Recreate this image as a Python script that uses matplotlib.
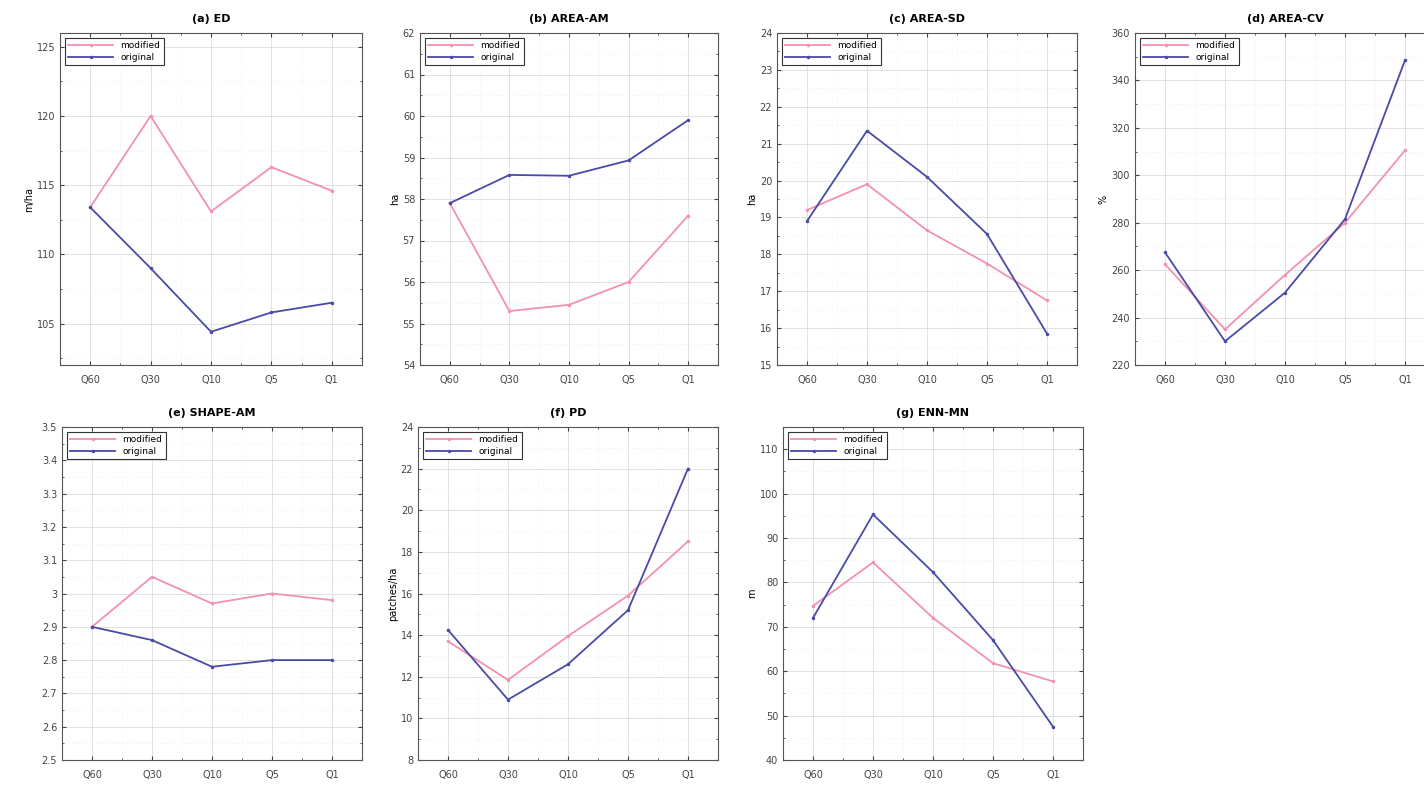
import numpy as np
import matplotlib
matplotlib.use('Agg')
import matplotlib.pyplot as plt
from matplotlib.ticker import MultipleLocator, AutoMinorLocator

quantiles = ['Q60', 'Q30', 'Q10', 'Q5', 'Q1']

# (a) ED
ed_mod = [113.4, 120.0, 113.1, 116.3, 114.6]
ed_orig = [113.4, 109.0, 104.4, 105.8, 106.5]
# (b) AREA-AM
am_mod = [57.9, 55.3, 55.45, 56.0, 57.6]
am_orig = [57.9, 58.58, 58.56, 58.93, 59.9]
# (c) AREA-SD
sd_mod = [19.2, 19.9, 18.65, 17.75, 16.75]
sd_orig = [18.9, 21.35, 20.1, 18.55, 15.85]
# (d) AREA-CV
cv_mod = [262.5, 235.0, 258.0, 280.0, 310.5]
cv_orig = [267.5, 230.0, 250.5, 281.5, 348.5]
# (e) SHAPE-AM
shape_mod = [2.90, 3.05, 2.97, 3.00, 2.98]
shape_orig = [2.90, 2.86, 2.78, 2.80, 2.80]
# (f) PD
pd_mod = [13.7, 11.85, 13.95, 15.9, 18.5]
pd_orig = [14.25, 10.9, 12.6, 15.2, 22.0]
# (g) ENN-MN
enn_mod = [74.7, 84.5, 72.0, 61.8, 57.7]
enn_orig = [72.0, 95.3, 82.3, 67.0, 47.5]

panels = [
    ('(a) ED', ed_mod, ed_orig, 'm/ha', (102, 126), 5),
    ('(b) AREA-AM', am_mod, am_orig, 'ha', (54, 62), 1),
    ('(c) AREA-SD', sd_mod, sd_orig, 'ha', (15, 24), 1),
    ('(d) AREA-CV', cv_mod, cv_orig, '%', (220, 360), 20),
    ('(e) SHAPE-AM', shape_mod, shape_orig, '', (2.5, 3.5), 0.1),
    ('(f) PD', pd_mod, pd_orig, 'patches/ha', (8, 24), 2),
    ('(g) ENN-MN', enn_mod, enn_orig, 'm', (40, 115), 10),
]

# axes rectangles in pixels: left, top, right, bottom
boxes = [
    (60, 33, 362, 365), (420, 33, 718, 365), (777, 33, 1077, 365), (1135, 33, 1435, 365),
    (62, 427, 362, 760), (418, 427, 718, 760), (783, 427, 1083, 760),
]

c_mod = '#f291b0'
c_orig = '#4a4aa8'
W, H = 1424, 786

fig = plt.figure(figsize=(W / 100, H / 100), dpi=100)
x = np.arange(1, 6)

def fmt(v):
    s = ('%.1f' % v).rstrip('0').rstrip('.')
    return s

for (title, mod, orig, ylab, ylim, step), (l, t, r, b) in zip(panels, boxes):
    ax = fig.add_axes([l / W, 1 - b / H, (r - l) / W, (b - t) / H])
    ax.plot(x, mod, '-', marker='.', ms=3, color=c_mod, lw=1.3, label='modified')
    ax.plot(x, orig, '-', marker='.', ms=3, color=c_orig, lw=1.3, label='original')
    ax.set_xlim(0.5, 5.5)
    ax.set_ylim(*ylim)
    ax.set_xticks(x)
    ax.set_xticklabels(quantiles)
    ax.yaxis.set_major_locator(MultipleLocator(step))
    ax.yaxis.set_minor_locator(AutoMinorLocator(2))
    ax.xaxis.set_minor_locator(AutoMinorLocator(2))
    ticks = [v for v in ax.get_yticks() if ylim[0] - 1e-9 <= v <= ylim[1] + 1e-9]
    ax.set_yticks(ticks)
    ax.set_yticklabels([fmt(v) for v in ticks])
    ax.grid(True, which='major', color='#dddddd', lw=0.6)
    ax.grid(True, which='minor', color='#eeeeee', lw=0.5, ls=':')
    ax.tick_params(which='both', direction='in', labelsize=7, colors='#444444',
                   top=True, right=True, length=3)
    ax.tick_params(axis='x', pad=7)
    ax.tick_params(which='minor', length=1.5)
    for s in ax.spines.values():
        s.set_color('#555555')
        s.set_linewidth(0.8)
    ax.set_title(title, fontsize=8, fontweight='bold', pad=8)
    if ylab:
        ax.set_ylabel(ylab, fontsize=7, labelpad=2)
    leg = ax.legend(loc='upper left', fontsize=6.5, fancybox=False, framealpha=1,
                    edgecolor='#333333', handlelength=5, borderpad=0.4, labelspacing=0.3)
    leg.get_frame().set_linewidth(0.8)

fig.savefig('out.png', dpi=100)
